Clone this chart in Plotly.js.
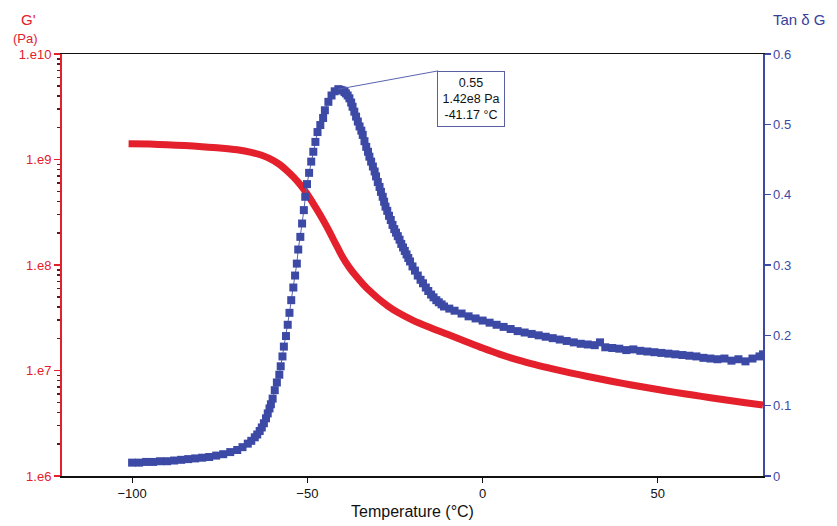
<!DOCTYPE html>
<html>
<head>
<meta charset="utf-8">
<script src="https://cdn.plot.ly/plotly-3.0.1.min.js"></script>
<style>
  html, body { margin: 0; padding: 0; background: #fff; }
  #chart { width: 837px; height: 526px; }
</style>
</head>
<body>
<div id="chart"></div>
<script>
// storage modulus G' (Pa) vs temperature
const tempG = [
  -101, -95, -90, -85, -80, -75, -70, -66, -63, -61, -58, -56, -54, -52, -50,
  -48, -46, -44, -42, -41.17, -40, -38, -36, -34, -32, -30, -27, -24, -20,
  -15, -10, -5, 0, 5, 10, 15, 20, 25, 30, 35, 40, 45, 50, 55, 60, 65, 70, 75, 80
];
const gPrime = [
  1.413e9, 1.400e9, 1.380e9, 1.355e9, 1.324e9, 1.288e9, 1.236e9, 1.169e9, 1.096e9,
  1.028e9, 9.016e8, 7.943e8, 6.839e8, 5.754e8, 4.677e8, 3.673e8, 2.851e8, 2.163e8,
  1.603e8, 1.42e8, 1.197e8, 9.441e7, 7.762e7, 6.531e7, 5.598e7, 4.875e7, 4.083e7,
  3.524e7, 3.006e7, 2.553e7, 2.203e7, 1.897e7, 1.633e7, 1.422e7, 1.259e7, 1.135e7,
  1.035e7, 9.506e6, 8.770e6, 8.128e6, 7.551e6, 7.047e6, 6.607e6, 6.209e6, 5.848e6,
  5.521e6, 5.224e6, 4.955e6, 4.710e6
];

// tan delta vs temperature
const tempTan = [
  -100, -98, -96, -94, -92, -90, -88, -86, -84, -82, -80, -78, -76, -74, -72, -70,
  -68.5, -67, -66, -65, -64.3, -63.6, -63, -62.4, -61.8, -61.3, -60.8, -60.4, -59.9,
  -59.3, -58.7, -58.0, -57.6, -57.1, -56.7, -56.1, -55.6, -55.1, -54.6, -54.0, -53.5,
  -53.0, -52.6, -52.0, -51.5, -51.0, -50.6, -50.1, -49.5, -48.9, -48.3, -47.7, -47.1,
  -46.3, -45.5, -45.0, -44.0, -43.1, -42.2, -41.17, -40.5, -39.9, -39.4, -39.0, -38.5,
  -38.0, -37.5, -37.1, -36.6, -36.1, -35.6, -35.1, -34.6, -34.2, -33.7, -33.2, -32.7,
  -32.3, -31.8, -31.3, -30.8, -30.4, -29.9, -29.4, -29.0, -28.5, -28.1, -27.7, -27.2,
  -26.7, -26.2, -25.7, -25.2, -24.7, -24.2, -23.7, -23.2, -22.7, -22.2, -21.7, -21.2,
  -20.7, -20.0, -19.3, -18.5, -17.7, -17.0, -16.2, -15.5, -14.7, -14.0, -13.2, -12.5,
  -11.7, -11.0, -9.5, -8, -6, -4, -2, 0, 2, 4, 6, 8, 10, 12, 14, 16, 18, 20, 22, 24,
  26, 28, 30, 32, 33.5, 35, 37, 39, 41, 43, 45, 47, 49, 51, 53, 55, 57, 59, 61, 63,
  65, 67, 69, 71, 73, 75, 77, 79, 80
];
const tanDelta = [
  0.019, 0.019, 0.020, 0.020, 0.021, 0.021, 0.022, 0.023, 0.024, 0.025, 0.026, 0.027,
  0.029, 0.031, 0.034, 0.037, 0.041, 0.046, 0.050, 0.055, 0.059, 0.064, 0.069, 0.075,
  0.082, 0.089, 0.096, 0.102, 0.110, 0.122, 0.133, 0.144, 0.156, 0.170, 0.184, 0.199,
  0.215, 0.232, 0.250, 0.268, 0.285, 0.302, 0.322, 0.340, 0.359, 0.378, 0.397, 0.415,
  0.431, 0.447, 0.461, 0.475, 0.489, 0.499, 0.509, 0.520, 0.532, 0.541, 0.547, 0.550,
  0.549, 0.548, 0.546, 0.544, 0.541, 0.537, 0.531, 0.525, 0.518, 0.511, 0.504, 0.497,
  0.491, 0.485, 0.476, 0.468, 0.461, 0.454, 0.447, 0.440, 0.433, 0.426, 0.418, 0.411,
  0.404, 0.397, 0.390, 0.383, 0.377, 0.370, 0.364, 0.357, 0.351, 0.346, 0.341, 0.336,
  0.330, 0.325, 0.320, 0.315, 0.310, 0.305, 0.298, 0.292, 0.285, 0.279, 0.274, 0.268,
  0.263, 0.258, 0.254, 0.250, 0.247, 0.244, 0.241, 0.238, 0.235, 0.231, 0.227, 0.224,
  0.221, 0.218, 0.215, 0.212, 0.209, 0.206, 0.204, 0.202, 0.200, 0.198, 0.196, 0.194,
  0.192, 0.190, 0.188, 0.187, 0.186, 0.190, 0.183, 0.182, 0.181, 0.179, 0.180, 0.178,
  0.177, 0.176, 0.175, 0.174, 0.173, 0.172, 0.171, 0.170, 0.168, 0.167, 0.166, 0.167,
  0.164, 0.166, 0.163, 0.167, 0.170, 0.173
];

const xTicks = [-100, -50, 0, 50];
const gTicks = [1e6, 1e7, 1e8, 1e9, 1e10];
const gTickText = ["1.e6", "1.e7", "1.e8", "1.e9", "1.e10"];
const tanTicks = [0, 0.1, 0.2, 0.3, 0.4, 0.5, 0.6];
const tanTickText = ["0", "0.1", "0.2", "0.3", "0.4", "0.5", "0.6"];

const RED = "#e3202b";
const BLUE = "#3c4aa6";
const FONT = "Arial, 'Liberation Sans', sans-serif";

// minor log ticks 2..9 in every decade
const minorTicks = [];
for (let d = 6; d < 10; d++) {
  for (let k = 2; k <= 9; k++) minorTicks.push(k * Math.pow(10, d));
}

// peak of tan delta for the label box
let iPeak = 0;
tanDelta.forEach((v, i) => { if (v > tanDelta[iPeak]) iPeak = i; });
const tPeak = tempTan[iPeak];
const gAtPeak = gPrime[tempG.indexOf(tPeak)];
const boxText =
  tanDelta[iPeak].toFixed(2) + "<br>" +
  gAtPeak.toExponential(2).replace("e+", "e") + " Pa<br>" +
  tPeak.toFixed(2) + " °C";

// plot area in pixels, used to place the loose text
const W = 837, H = 526;
const M = { l: 62, r: 74, t: 54, b: 50 };
const px = (x) => (x - M.l) / (W - M.l - M.r);
const py = (y) => 1 - (y - M.t) / (H - M.t - M.b);

const data = [
  {
    x: tempG, y: gPrime, type: "scatter", mode: "lines",
    line: { color: RED, width: 7, shape: "spline", smoothing: 0.7 },
    yaxis: "y", hoverinfo: "x+y", showlegend: false
  },
  {
    x: tempTan, y: tanDelta, type: "scatter", mode: "lines+markers",
    line: { color: "#5a63b0", width: 1 },
    marker: { symbol: "square", size: 8, color: BLUE },
    yaxis: "y2", hoverinfo: "x+y", showlegend: false
  }
];

const layout = {
  width: W, height: H,
  margin: M,
  paper_bgcolor: "#fff",
  plot_bgcolor: "#fff",
  font: { family: FONT, size: 13, color: "#111" },
  xaxis: {
    range: [-120, 80],
    tickvals: xTicks,
    ticks: "outside", ticklen: 5, tickcolor: "#111",
    showline: true, linecolor: "#111", linewidth: 1.5, mirror: true,
    showgrid: false, zeroline: false,
    tickfont: { size: 13, color: "#111" },
    title: { text: "Temperature (°C)", font: { size: 16, color: "#111" }, standoff: 5 }
  },
  yaxis: {
    type: "log", range: [6, 10],
    tickvals: gTicks, ticktext: gTickText,
    ticks: "outside", ticklen: 6, tickcolor: RED, tickwidth: 1.5,
    minor: { tickvals: minorTicks, ticks: "outside", ticklen: 3, tickcolor: "#5a1a24" },
    showline: true, linecolor: RED, linewidth: 2,
    showgrid: false, zeroline: false,
    tickfont: { size: 13, color: RED }
  },
  yaxis2: {
    overlaying: "y", side: "right",
    range: [0, 0.6],
    tickvals: tanTicks, ticktext: tanTickText,
    ticks: "outside", ticklen: 6, tickcolor: BLUE, tickwidth: 1.5,
    showline: true, linecolor: BLUE, linewidth: 1.5,
    showgrid: false, zeroline: false,
    tickfont: { size: 13, color: BLUE }
  },
  shapes: [
    {
      type: "line", xref: "x", yref: "y2", layer: "above",
      x0: tPeak, y0: tanDelta[iPeak], x1: -12.7, y1: 0.576,
      line: { color: "#5a63b0", width: 1 }
    }
  ],
  annotations: [
    {
      xref: "x", yref: "y2", x: -3.2, y: 0.536,
      xanchor: "center", yanchor: "middle", showarrow: false,
      text: boxText, align: "center",
      font: { size: 12.5, color: "#111" },
      bgcolor: "#fff", bordercolor: "#5a5fa0", borderwidth: 1, borderpad: 3,
      width: 60, height: 48
    },
    {
      xref: "paper", yref: "paper", x: px(28), y: py(19),
      xanchor: "center", yanchor: "middle", showarrow: false,
      text: "G'", font: { size: 15, color: RED }
    },
    {
      xref: "paper", yref: "paper", x: px(25), y: py(38),
      xanchor: "center", yanchor: "middle", showarrow: false,
      text: "(Pa)", font: { size: 13, color: RED }
    },
    {
      xref: "paper", yref: "paper", x: px(799), y: py(20),
      xanchor: "center", yanchor: "middle", showarrow: false,
      text: "Tan δ G", font: { size: 15, color: "#3a3f9a" }
    }
  ]
};

Plotly.newPlot("chart", data, layout, { displayModeBar: false, staticPlot: true });
</script>
</body>
</html>
